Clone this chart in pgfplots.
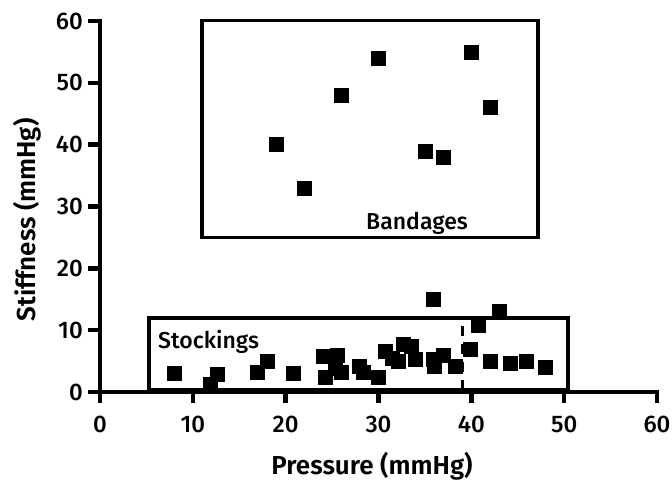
\documentclass[border=0pt]{standalone}
\usepackage{fontspec}
\setmainfont{Fira Sans}
\newfontfamily\labelfont{Fira Sans SemiBold}
\newfontfamily\medfont{Fira Sans Medium}
\usepackage{pgfplots}
\pgfplotsset{compat=1.18}

\begin{document}
\begin{tikzpicture}
\useasboundingbox (0,0) rectangle (672pt,481pt);
\begin{axis}[
  at={(100pt,89pt)}, anchor=south west,
  scale only axis, width=557pt, height=371pt,
  xmin=0, xmax=60, ymin=0, ymax=60,
  axis lines=left,
  axis line style={-, line width=4.5pt, line cap=rect},
  xtick=\empty, ytick=\empty,
  clip=false,
]
% boxes
\draw[line width=3.5pt] (axis cs:11,25) rectangle (axis cs:47.2,60.1);
\draw[line width=3.5pt] (axis cs:5.3,0.4) rectangle (axis cs:50.4,12);
\draw[line width=3pt, dash pattern=on 10pt off 8pt] (axis cs:39.1,0.4) -- (axis cs:39.1,12);
\node[font=\medfont\fontsize{23}{25}\selectfont] at (axis cs:34.15,27.3) {Bandages};
\node[font=\medfont\fontsize{23}{25}\selectfont, anchor=west, inner sep=0pt] at (axis cs:6.25,8.1) {Stockings};

% bandages
\addplot[only marks, mark=square*, mark size=7pt, black] coordinates {
  (19,40)(22,33)(26,48)(30,54)(35,39)(37,38)(40,55)(42,46)
};
% stockings
\addplot[only marks, mark=square*, mark size=7pt, black] coordinates {
  (8,3.0)(11.9,1.3)(12.6,2.8)(16.9,3.2)(18.0,5.0)(20.8,3.1)
  (24.0,5.8)(24.3,2.4)(25.3,3.9)(25.6,6.0)(26.0,3.2)
  (27.9,4.1)(28.4,3.2)(30.0,2.4)
  (30.7,6.6)(31.5,5.5)(32.1,5.0)(32.7,7.8)(33.5,7.4)(33.9,5.3)
  (35.9,15.0)(35.9,5.3)(36.0,4.2)(37.0,6.0)(38.3,4.1)
  (39.9,7.0)(40.7,10.8)(42.0,5.0)(43.0,13.0)(44.2,4.7)(45.9,5.0)(48.0,4.0)
};
\end{axis}
% ticks and tick labels (axis origin at 100pt,89pt; 9.2833pt per unit in x, 6.1833pt in y)
\foreach \t in {0,10,...,60} {
  \draw[line width=4.5pt] ({(100+9.2833*\t)*1pt},89pt) -- ++(0,-11pt);
  \node[font=\medfont\fontsize{24}{26}\selectfont, anchor=base]
    at ({(100+9.2833*\t)*1pt},48pt) {\t};
  \draw[line width=4.5pt] (100pt,{(89+6.1833*\t)*1pt}) -- ++(-12pt,0);
  \node[font=\medfont\fontsize{24}{26}\selectfont, anchor=east, inner sep=0pt]
    at (83pt,{(89+6.1833*\t)*1pt}) {\t};
}
% axis labels
\node[font=\labelfont\fontsize{26}{28}\selectfont, anchor=base] at (372pt,6pt) {Pressure (mmHg)};
\node[font=\labelfont\fontsize{26}{28}\selectfont, anchor=base, rotate=90] at (35pt,261pt) {Stiffness (mmHg)};
\end{tikzpicture}
\end{document}
